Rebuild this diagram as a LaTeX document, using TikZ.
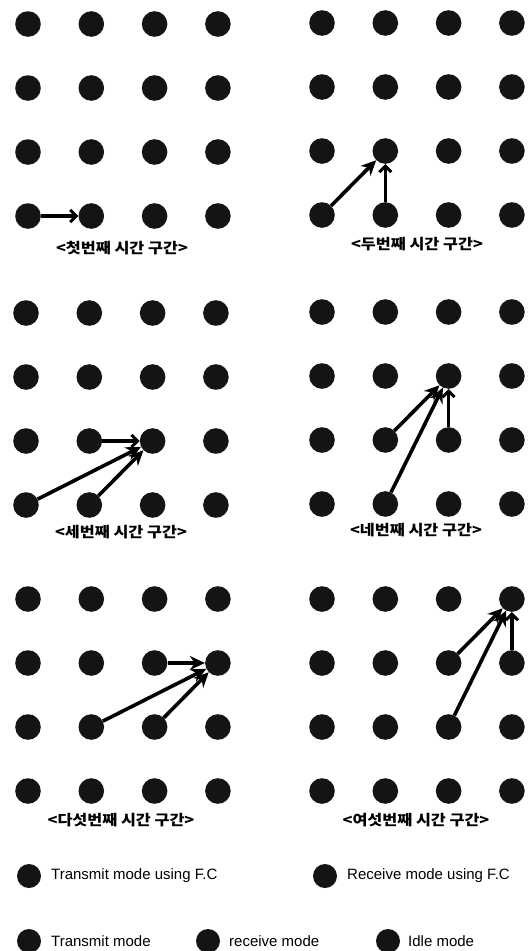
\documentclass[tikz,border=0pt]{standalone}
\usepackage{fontspec}
\setmainfont{Liberation Sans}
\newfontfamily\kor{Noto Sans CJK KR}
\usetikzlibrary{arrows.meta}
\definecolor{dotc}{RGB}{20,20,20}
\newcommand\mygrid[3]{%
  \foreach \r in {1,...,4}{\foreach \c in {1,...,4}{%
    \node[dot] (#1\r\c) at ({#2+(\c-1)*63.3},{#3+(\r-1)*64}) {};}}}
\newcommand\kcap[1]{\scalebox{1.12}[1]{#1}}
\begin{document}
\begin{tikzpicture}[x=1pt,y=-1pt,
  dot/.style={circle,fill=dotc,minimum size=25.6pt,inner sep=0pt},
  ldot/.style={circle,fill=dotc,minimum size=24pt,inner sep=0pt},
  arr/.style={line width=3.6pt,-{Stealth[length=15pt,width=14pt]}},
  barb/.style={line width=3.4pt,-{Straight Barb[length=6pt,width=12pt,line width=3pt]}},
  captext/.style={font=\kor\bfseries\fontsize{14.5}{16}\selectfont,inner sep=0pt},
  lt/.style={font=\fontsize{15}{17}\selectfont,inner sep=0pt,anchor=west}]
\fill[white] (0,0) rectangle (530,951);
\useasboundingbox (0,0) rectangle (530,951);
% grids
\mygrid{a}{28}{24}
\mygrid{b}{322}{23}
\mygrid{c}{26}{313}
\mygrid{d}{322}{312}
\mygrid{e}{28}{599}
\mygrid{f}{322}{599}
% arrows
\draw[barb] (a41) -- (a42);
\draw[arr] (b41) -- (b32);
\draw[barb] (b42) -- (b32);
\draw[barb] (c32) -- (c33);
\draw[arr] (c41) -- (c33);
\draw[arr] (c42) -- (c33);
\draw[arr] (d32) -- (d23);
\draw[arr] (d42) -- (d23);
\draw[barb] (d33) -- (d23);
\draw[arr] (e23) -- (e24);
\draw[arr] (e32) -- (e24);
\draw[arr] (e33) -- (e24);
\draw[arr] (f23) -- (f14);
\draw[arr] (f33) -- (f14);
\draw[barb] (f24) -- (f14);
% captions
\node[captext] (t1) at (122,248) {\kcap{<첫번째 시간 구간>}};
\node[captext] (t2) at (417,244) {\kcap{<두번째 시간 구간>}};
\node[captext] (t3) at (121,532) {\kcap{<세번째 시간 구간>}};
\node[captext] (t4) at (416,530) {\kcap{<네번째 시간 구간>}};
\node[captext] (t5) at (121,820) {\kcap{<다섯번째 시간 구간>}};
\node[captext] (t6) at (416,820) {\kcap{<여섯번째 시간 구간>}};
% legend
\node[ldot] (l1) at (29,876) {};
\node[lt] (l1t) at (51,876) {Transmit mode using F.C};
\node[ldot] (l2) at (325,876) {};
\node[lt] (l2t) at (347,876) {Receive mode using F.C};
\node[ldot] (l3) at (29,941) {};
\node[lt] (l3t) at (51,941) {Transmit mode};
\node[ldot] (l4) at (208,941) {};
\node[lt] (l4t) at (229,941) {receive mode};
\node[ldot] (l5) at (388,941) {};
\node[lt] (l5t) at (408,941) {Idle mode};
\end{tikzpicture}
\end{document}
